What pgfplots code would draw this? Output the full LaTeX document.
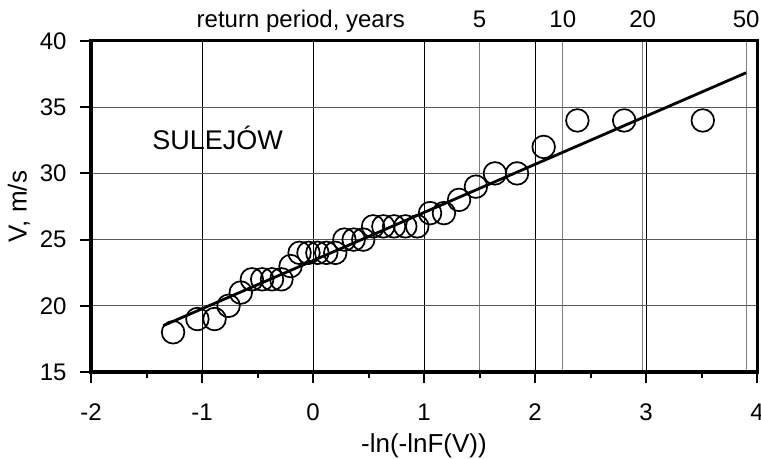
\documentclass[border=0pt]{standalone}
\usepackage{fontspec}
\setmainfont{Liberation Sans}
\usepackage{pgfplots}
\pgfplotsset{compat=1.18}
\begin{document}
\begin{tikzpicture}
% top axis: return period scale with its grid lines
\begin{axis}[name=top, width=333pt, height=165.5pt, scale only axis,
  xmin=-2, xmax=4, ymin=15, ymax=40,
  axis x line*=top, axis y line=none,
  axis line style={draw=none},
  xtick={1.4999,2.2504,2.9702,3.9019}, xticklabels={5,10,20,50},
  major tick length=0pt,
  xmajorgrids, major grid style={black!50, line width=0.5pt},
  xticklabel style={font=\fontsize{12}{14}\selectfont, anchor=base, yshift=6.75pt}]
  \addplot[draw=none] coordinates {(0,20)};
\end{axis}
% main axis
\begin{axis}[name=ax, width=333pt, height=165.5pt, scale only axis,
  xmin=-2, xmax=4, ymin=15, ymax=40, clip=false,
  xtick={-2,-1,0,1,2,3,4}, xticklabels={-2,-1,0,1,2,3,4},
  ytick={15,20,25,30,35,40}, yticklabels={15,20,25,30,35,40},
  minor xtick={-1.5,-0.5,0.5,1.5,2.5,3.5},
  xtick pos=bottom, ytick pos=left, tick align=outside,
  major tick length=5.5pt, minor tick length=3pt,
  every tick/.style={black, line width=1pt},
  axis line style={line width=1.5pt},
  xmajorgrids, ymajorgrids,
  major x grid style={black, line width=0.5pt},
  major y grid style={black!65, line width=0.5pt},
  tick label style={font=\fontsize{12}{14}\selectfont},
  xticklabel style={anchor=base, yshift=-18.5pt},
  yticklabel style={anchor=east, inner sep=0pt, xshift=-6.5pt},
  xlabel={-ln(-lnF(V))},
  xlabel style={at={(axis description cs:0.5,-0.2447)}, anchor=base, font=\fontsize{13}{15}\selectfont},
  ylabel={V, m/s},
  ylabel style={at={(axis description cs:-0.0967,0.5)}, anchor=base, font=\fontsize{13}{15}\selectfont}]
  \addplot[only marks, mark=o, mark size=5.65pt, mark options={line width=0.85pt, black}] coordinates {
    (-1.2603,18) (-1.0414,19) (-0.8870,19) (-0.7608,20) (-0.6507,21)
    (-0.5508,22) (-0.4578,22) (-0.3695,22) (-0.2845,22) (-0.2019,23)
    (-0.1209,24) (-0.0407,24) (0.0394,24) (0.1196,24) (0.2005,24)
    (0.2826,25) (0.3665,25) (0.4526,25) (0.5414,26) (0.6337,26)
    (0.7302,26) (0.8317,26) (0.9393,26) (1.0547,27) (1.1793,27)
    (1.3157,28) (1.4675,29) (1.6390,30) (1.8383,30) (2.0780,32)
    (2.3818,34) (2.8033,34) (3.5115,34)};
  \addplot[black, line width=1.4pt] coordinates {(-1.35,18.5) (3.902,37.6)};
  \node[anchor=base, font=\fontsize{13.5}{16}\selectfont] at (axis cs:-0.86,31.77) {SULEJÓW};
  \node[anchor=base, font=\fontsize{12}{14}\selectfont] at ([yshift=6.75pt]axis cs:-0.11,40) {return period, years};
\end{axis}
\pgfresetboundingbox
\path[use as bounding box] ([xshift=-45.5pt,yshift=-43pt]ax.south west) rectangle ([xshift=2pt,yshift=20.5pt]ax.north east);
\end{tikzpicture}
\end{document}
